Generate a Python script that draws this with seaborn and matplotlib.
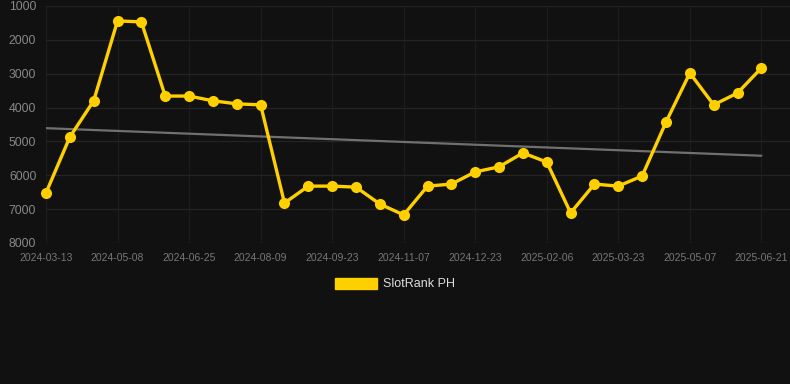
import numpy as np
import pandas as pd
import matplotlib
matplotlib.use("Agg")
import matplotlib.pyplot as plt
from matplotlib.patches import Patch
import seaborn as sns

# ---- data ----
tick_labels = ["2024-03-13", "2024-05-08", "2024-06-25", "2024-08-09", "2024-09-23",
               "2024-11-07", "2024-12-23", "2025-02-06", "2025-03-23", "2025-05-07",
               "2025-06-21"]
rank = [6520, 4870, 3800, 1440, 1470, 3660, 3660, 3800, 3890, 3920,
        6820, 6320, 6320, 6350, 6850, 7170, 6320, 6260, 5900, 5750,
        5340, 5610, 7110, 6260, 6320, 6020, 4430, 2980, 3920, 3570, 2830]
series_name = "SlotRank PH"

idx = np.arange(len(rank))
df = pd.DataFrame({"idx": idx, "rank": rank})

sns.set_theme(style="dark")
plt.rcParams["font.family"] = ["Liberation Sans", "DejaVu Sans"]

BG = "#111111"
YELLOW = "#FFD000"

fig = plt.figure(figsize=(7.9, 3.84), dpi=100, facecolor=BG)
ax = fig.add_axes([46 / 790, 141 / 384, 1 - 46 / 790, 237 / 384])
ax.set_facecolor(BG)

# trend line (linear regression)
coef = np.polyfit(idx, rank, 1)
trend = np.polyval(coef, idx)
sns.lineplot(x=idx, y=trend, ax=ax, color="#707070", linewidth=1.6, zorder=2)

sns.lineplot(data=df, x="idx", y="rank", ax=ax, color=YELLOW, linewidth=2.4,
             marker="o", markersize=8, markeredgewidth=0, zorder=3, clip_on=False)

ax.set_xlim(0, 31.2)
ax.set_ylim(8000, 1000)
ax.set_yticks([1000, 2000, 3000, 4000, 5000, 6000, 7000, 8000])
ax.set_xticks(idx[::3])
ax.set_xticklabels(tick_labels)
ax.tick_params(axis="x", colors="#777777", labelsize=7.5, length=0, pad=7)
ax.tick_params(axis="y", colors="#888888", labelsize=8.8, length=0, pad=7)
ax.set_xlabel("")
ax.set_ylabel("")
ax.grid(True, axis="y", color="#242424", linewidth=0.9)
ax.grid(True, axis="x", color="#1c1c1c", linewidth=0.9)
for s in ax.spines.values():
    s.set_visible(False)
if ax.get_legend() is not None:
    ax.get_legend().remove()

handle = Patch(facecolor=YELLOW, edgecolor=YELLOW, label=series_name)
fig.legend(handles=[handle], loc="center", bbox_to_anchor=(0.5, 1 - 284 / 384),
           frameon=False, fontsize=9, labelcolor="#dddddd",
           handlelength=3.3, handleheight=1.0, handletextpad=0.5)

fig.savefig("out.png", dpi=100, facecolor=BG)
